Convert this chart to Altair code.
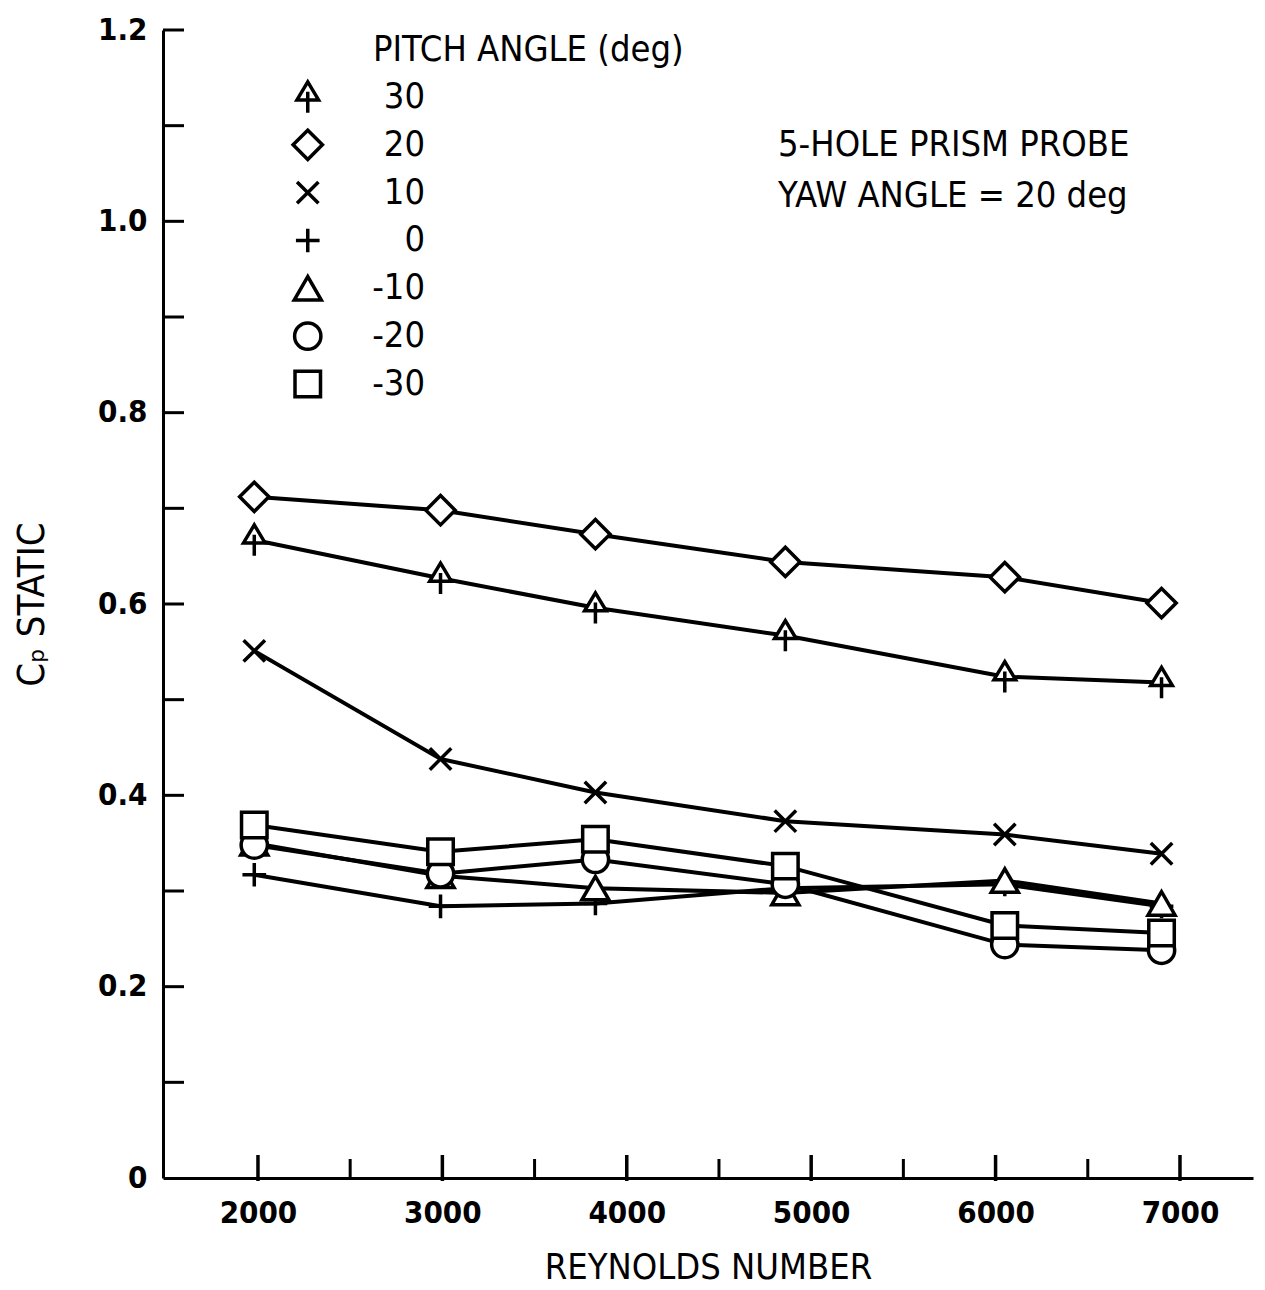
import altair as alt
import pandas as pd

# ---------------- data ----------------
reynolds = [1980, 2990, 3830, 4860, 6050, 6900]
pitch_labels = ["30", "20", "10", "0", "-10", "-20", "-30"]
cp_p30 = [0.667, 0.627, 0.596, 0.567, 0.524, 0.518]
cp_p20 = [0.712, 0.698, 0.673, 0.644, 0.628, 0.601]
cp_p10 = [0.551, 0.438, 0.403, 0.373, 0.359, 0.339]
cp_p0 = [0.317, 0.284, 0.287, 0.303, 0.307, 0.284]
cp_m10 = [0.350, 0.316, 0.303, 0.298, 0.311, 0.287]
cp_m20 = [0.348, 0.318, 0.333, 0.307, 0.244, 0.238]
cp_m30 = [0.369, 0.341, 0.354, 0.326, 0.264, 0.256]

x_tick_labels = [2000, 3000, 4000, 5000, 6000, 7000]
x_minor_ticks = [2500, 3500, 4500, 5500, 6500]
y_tick_labels = [0, 0.2, 0.4, 0.6, 0.8, 1.0, 1.2]
y_minor_ticks = [0.1, 0.2, 0.3, 0.4, 0.5, 0.6, 0.7, 0.8, 0.9, 1.0, 1.1, 1.2]

legend_title = "PITCH ANGLE (deg)"
legend_rows_y = [1.130, 1.080, 1.030, 0.980, 0.930, 0.880, 0.830]
legend_symbol_x = 2270
legend_text_x = 2906
note_lines = ["5-HOLE PRISM PROBE", "YAW ANGLE = 20 deg"]
note_y = [1.080, 1.027]
note_x = 4820

series = [cp_p30, cp_p20, cp_p10, cp_p0, cp_m10, cp_m20, cp_m30]
rows = []
for lab, vals in zip(pitch_labels, series):
    for r, v in zip(reynolds, vals):
        rows.append({"Re": r, "Cp": v, "pitch": lab})
df = pd.DataFrame(rows)

legend_df = pd.DataFrame({"pitch": pitch_labels, "Re": [legend_symbol_x] * 7,
                          "tx": [legend_text_x] * 7, "Cp": legend_rows_y})
note_df = pd.DataFrame({"text": note_lines, "Re": [note_x] * 2, "Cp": note_y})
title_df = pd.DataFrame({"text": [legend_title], "Re": [2624], "Cp": [1.179]})
ymin_df = pd.DataFrame({"v": y_minor_ticks})
xmaj_df = pd.DataFrame({"v": x_tick_labels})
xmin_df = pd.DataFrame({"v": x_minor_ticks})

# ---------------- styling ----------------
W, H = 1090, 1148
FONT = "DejaVu Sans Condensed, Liberation Sans Narrow, DejaVu Sans, sans-serif"

arrow_tri = "M0,-1L0.72,0.2L-0.72,0.2Z M0,-0.35L0,1.05"
x_path = "M-0.75,-0.75L0.75,0.75M-0.75,0.75L0.75,-0.75"
plus_path = "M-0.85,0L0.85,0M0,-0.85L0,0.85"
shape_range = [arrow_tri, "diamond", x_path, plus_path, "triangle-up", "circle", "square"]
size_range = [900, 650, 420, 480, 260, 300, 300]

x_scale = alt.Scale(domain=[1485, 7396], nice=False, zero=False)
y_scale = alt.Scale(domain=[0, 1.2], nice=False, zero=False)
shape_scale = alt.Scale(domain=pitch_labels, range=shape_range)
size_scale = alt.Scale(domain=pitch_labels, range=size_range)

x_axis = alt.Axis(values=x_tick_labels, format="d", ticks=False, grid=False,
                  labelFontSize=31, labelFontWeight="bold", labelFont=FONT,
                  labelColor="black", labelPadding=20, labelFlush=False,
                  domainColor="black", domainWidth=3,
                  title="REYNOLDS NUMBER", titleFont=FONT, titleFontSize=36,
                  titleFontWeight="normal", titleColor="black", titlePadding=22)
y_axis = alt.Axis(values=y_tick_labels, ticks=False, grid=False,
                  labelExpr="datum.value == 0 ? '0' : format(datum.value, '.1f')",
                  labelFontSize=31, labelFontWeight="bold", labelFont=FONT,
                  labelColor="black", labelPadding=16, labelFlush=False,
                  domainColor="black", domainWidth=3,
                  title="Cₚ STATIC", titleFont=FONT, titleFontSize=38,
                  titleFontWeight="normal", titleColor="black", titlePadding=46)

base = alt.Chart(df)

lines = base.mark_line(color="black", strokeWidth=4).encode(
    x=alt.X("Re:Q", scale=x_scale, axis=x_axis),
    y=alt.Y("Cp:Q", scale=y_scale, axis=y_axis),
    detail="pitch:N",
)

points = base.mark_point(filled=True, fill="white", stroke="black",
                         strokeWidth=3.5, opacity=1).encode(
    x=alt.X("Re:Q", scale=x_scale),
    y=alt.Y("Cp:Q", scale=y_scale),
    shape=alt.Shape("pitch:N", scale=shape_scale, legend=None),
    size=alt.Size("pitch:N", scale=size_scale, legend=None),
)

leg_pts = alt.Chart(legend_df).mark_point(filled=True, fill="white", stroke="black",
                                          strokeWidth=3.5, opacity=1).encode(
    x=alt.X("Re:Q", scale=x_scale),
    y=alt.Y("Cp:Q", scale=y_scale),
    shape=alt.Shape("pitch:N", scale=shape_scale, legend=None),
    size=alt.Size("pitch:N", scale=size_scale, legend=None),
)

leg_txt = alt.Chart(legend_df).mark_text(align="right", baseline="middle",
                                         font=FONT, fontSize=36, color="black").encode(
    x=alt.X("tx:Q", scale=x_scale),
    y=alt.Y("Cp:Q", scale=y_scale),
    text="pitch:N",
)

leg_title = alt.Chart(title_df).mark_text(align="left", baseline="middle",
                                          font=FONT, fontSize=36, color="black").encode(
    x=alt.X("Re:Q", scale=x_scale),
    y=alt.Y("Cp:Q", scale=y_scale),
    text="text:N",
)

notes = alt.Chart(note_df).mark_text(align="left", baseline="middle",
                                     font=FONT, fontSize=36, color="black").encode(
    x=alt.X("Re:Q", scale=x_scale),
    y=alt.Y("Cp:Q", scale=y_scale),
    text="text:N",
)

y_ticks = alt.Chart(ymin_df).mark_rule(color="black", strokeWidth=3).encode(
    y=alt.Y("v:Q", scale=y_scale),
    x=alt.value(0),
    x2=alt.value(21),
)
x_major = alt.Chart(xmaj_df).mark_rule(color="black", strokeWidth=3.5).encode(
    x=alt.X("v:Q", scale=x_scale),
    y=alt.value(H - 23),
    y2=alt.value(H + 3),
)
x_minor = alt.Chart(xmin_df).mark_rule(color="black", strokeWidth=3).encode(
    x=alt.X("v:Q", scale=x_scale),
    y=alt.value(H - 19),
    y2=alt.value(H),
)

chart = alt.layer(lines, y_ticks, x_major, x_minor, points, leg_pts, leg_txt,
                  leg_title, notes).properties(
    width=W, height=H,
    autosize=alt.AutoSizeParams(type="none"),
    padding={"left": 155, "top": 22, "right": 4, "bottom": 108},
    background="white",
).configure_view(stroke=None)

chart.save("out.html", embed_options={"renderer": "svg", "actions": False})
